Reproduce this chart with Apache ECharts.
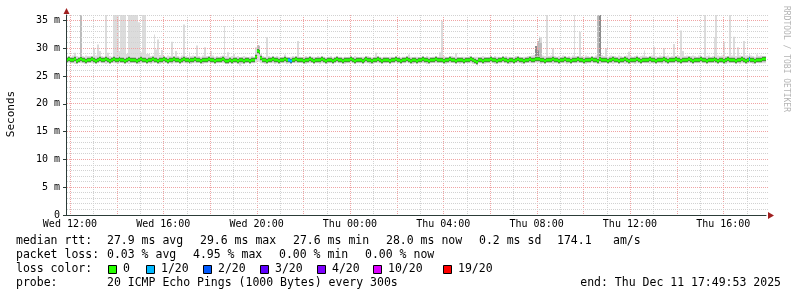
<!DOCTYPE html>
<html><head><meta charset="utf-8">
<script src="https://cdn.jsdelivr.net/npm/echarts@6/dist/echarts.min.js"></script>
<style>html,body{margin:0;padding:0;background:#fff}#c{width:797px;height:297px}</style>
</head><body><div id="c"></div>
<script>
// ---- time frame (hours since Wed 00:00) ----
const startHour = 11 + 49/60 + 53/3600;   // Wed 11:49:53
const endHour = startHour + 30;           // Thu 17:49:53
const firstStepHour = 11 + 50/60;
const stepHours = 5/60;

// ---- axis ticks / labels ----
const xLabelHours = [12,16,20,24,28,32,36,40];
const xLabels = ['Wed 12:00','Wed 16:00','Wed 20:00','Thu 00:00','Thu 04:00','Thu 08:00','Thu 12:00','Thu 16:00'];
const majorHourLines = [12,14,16,18,20,22,24,26,28,30,32,34,36,38,40];
const minorHourLines = [13,15,17,19,21,23,25,27,29,31,33,35,37,39,41];
const yTicks = [0,5,10,15,20,25,30,35];
const yTickLabels = ['0','5 m','10 m','15 m','20 m','25 m','30 m','35 m'];
const majorMsLines = [5,10,15,20,25,30,35];
const minorMsLines = [1,2,3,4,6,7,8,9,11,12,13,14,16,17,18,19,21,22,23,24,26,27,28,29,31,32,33,34,36];
const yMax = 36;

// ---- median rtt per 5-minute step (ms) ----
const median = [
27.9,28.0,27.9,27.9,28.0,27.8,27.9,28.0,27.9,27.9,27.8,27.9,
27.9,28.0,27.9,27.8,27.9,28.0,27.9,27.9,28.0,27.9,27.8,27.9,
28.0,27.9,27.9,28.0,27.9,27.9,27.8,27.9,28.0,27.9,27.9,27.9,
27.8,27.9,28.0,27.9,27.9,27.8,27.9,27.9,28.0,27.9,27.9,27.8,
27.9,27.9,28.0,27.9,27.8,27.9,27.9,28.0,27.9,27.9,27.8,27.9,
28.0,27.9,27.9,27.8,27.9,27.9,28.0,27.9,27.9,27.8,27.9,27.9,
27.9,28.0,27.9,27.9,27.8,27.9,27.9,27.9,28.0,27.9,27.8,27.8,
27.9,27.8,27.9,27.9,27.8,27.9,27.9,27.8,27.9,27.9,27.8,27.9,
27.9,28.5,29.6,29.3,28.2,27.9,27.9,27.8,27.9,27.9,28.0,27.9,
27.9,27.8,27.9,27.9,28.0,27.9,27.9,27.8,27.9,27.9,28.0,27.9,
27.9,27.9,27.8,27.9,27.9,28.0,27.9,27.8,27.9,27.9,27.9,28.0,
27.9,27.8,27.9,27.9,27.9,27.8,27.9,28.0,27.9,27.9,27.8,27.9,
27.9,27.9,28.0,27.9,27.8,27.9,27.9,27.9,27.8,27.9,28.0,27.9,
27.9,27.8,27.9,27.9,28.0,27.9,27.8,27.9,27.9,27.9,27.8,27.9,
27.9,28.0,27.9,27.9,27.8,27.9,27.9,28.0,27.9,27.8,27.9,27.9,
27.8,27.9,27.9,28.0,27.9,27.9,27.8,27.9,27.9,27.9,28.0,27.9,
27.9,27.9,27.8,27.9,27.9,28.0,27.9,27.9,27.8,27.9,27.9,27.9,
27.8,27.9,27.9,27.9,28.0,27.9,27.8,27.6,27.9,27.9,27.8,27.9,
27.9,27.9,28.0,27.9,27.9,27.8,27.9,27.9,28.0,27.9,27.9,27.8,
27.9,27.9,27.8,27.9,28.0,27.9,27.9,27.8,27.9,27.9,28.0,27.9,
27.9,28.0,28.1,28.0,27.9,27.9,27.8,27.9,27.9,27.9,28.0,27.9,
27.9,27.8,27.9,27.9,28.0,27.9,27.9,27.8,27.9,27.9,27.9,28.0,
27.9,27.9,27.8,27.9,27.9,27.9,28.0,27.9,27.9,27.8,28.0,27.9,
27.9,27.9,27.8,27.9,27.9,28.0,27.9,27.9,27.8,27.9,27.9,28.0,
27.9,27.8,27.9,27.9,27.9,28.0,27.9,27.8,27.9,27.9,27.9,27.9,
28.0,27.9,27.9,27.8,27.9,27.9,27.9,28.0,27.9,27.8,27.9,27.9,
27.9,28.0,27.9,27.9,27.8,27.9,27.9,27.9,28.0,27.9,27.8,27.9,
27.9,27.9,28.0,27.9,27.9,27.8,27.9,27.9,27.9,28.0,27.9,27.8,
27.9,27.9,27.8,27.9,28.0,27.9,27.9,27.9,27.8,27.9,27.9,28.0,
27.9,27.8,27.9,28.0,27.9,27.9,27.8,27.9,27.9,27.9,28.0,28.0
];

// ---- slowest ping per step (top of smoke, ms) ----
const pingMax = [
28.5,28.6,28.5,28.7,29.2,28.6,28.5,36,28.6,28.5,28.7,28.6,
28.6,28.5,30,28.7,30.7,29.5,28.6,28.5,36,29.2,28.6,28.5,
36,36,36,29.5,36,36,36,29,36,36,36,36,
36,34.7,29.3,36,36,29,29,28.6,28.7,32.5,29.8,31.6,
28.8,29.7,28.6,28.5,28.7,28.6,31.2,28.6,29.5,28.6,28.5,28.7,
34.3,28.6,28.5,29.3,28.6,28.7,28.5,30.5,28.6,28.5,28.7,30.2,
28.6,28.5,29.5,28.7,28.5,28.6,28.5,28.6,28.7,34,28.6,29.3,
28.5,28.6,29,28.5,28.6,28.4,28.5,28.6,28.5,28.4,28.5,28.6,
28.5,30.2,30.6,30.5,29,28.6,28.5,32,28.6,28.5,28.4,28.5,
28.6,28.5,28.4,28.5,28.9,28.5,28.4,28.5,28.6,28.5,28.4,31.3,
28.5,28.4,28.5,28.6,28.5,28.4,28.5,28.5,28.4,28.6,28.5,28.4,
28.5,28.4,28.5,28.5,28.6,28.4,28.5,28.4,28.5,28.5,28.4,28.5,
28.4,28.5,28.5,28.4,28.6,28.5,28.4,28.5,28.5,28.4,28.5,28.6,
28.5,28.4,28.5,29.2,28.6,28.5,28.4,28.5,28.5,28.4,28.5,28.5,
28.4,28.5,28.5,28.6,28.4,28.5,28.5,28.4,28.9,28.5,28.4,28.5,
28.5,28.4,28.5,28.5,28.4,28.6,28.5,28.4,28.5,28.5,28.6,28.5,
29.3,34.9,28.6,28.5,28.4,28.5,28.6,28.5,29.1,28.5,28.4,28.5,
28.5,28.4,28.5,28.6,28.5,28.4,28.5,28.5,28.4,28.5,28.6,28.5,
28.4,28.5,28.5,28.4,28.6,28.5,28.5,28.4,28.5,28.5,28.6,28.5,
28.5,28.4,28.5,28.6,28.5,28.5,28.4,28.5,28.5,28.6,28.5,28.7,
28.8,30.4,31.3,32.1,32,28.7,28.6,36,28.6,28.7,30,28.6,
28.5,28.6,28.5,28.7,28.6,28.5,28.6,28.5,28.7,36,28.6,28.5,
33,28.6,28.5,28.7,28.6,28.5,28.6,28.5,28.7,36,36,28.8,
28.6,30,28.5,28.6,28.7,28.5,28.6,28.5,28.7,28.6,28.5,28.6,
28.7,29.4,28.6,28.5,28.6,28.7,28.5,28.6,28.7,29.6,28.6,28.5,
28.6,28.7,30.3,28.6,28.5,28.7,28.6,30,28.6,28.7,28.5,28.6,
30.8,28.6,28.7,28.6,33.2,29.5,28.6,28.7,28.5,28.6,28.7,28.6,
28.5,28.7,28.6,28.5,36,28.6,28.7,28.5,28.6,32,36,28.7,
28.6,28.7,31.2,28.6,28.5,36,28.7,32.1,28.6,30.2,28.7,28.6,
31.3,28.7,28.6,29,28.7,28.6,28.5,28.9,28.6,28.7,28.6,28.5
];

// ---- fastest ping per step (bottom of smoke, ms) ----
const pingMin = [
27.3,27.4,27.3,27.3,27.2,27.3,27.4,27.3,27.3,27.2,27.3,27.3,
27.4,27.3,27.3,27.2,27.3,27.4,27.3,27.3,27.2,27.3,27.3,27.4,
27.3,27.3,27.2,27.3,27.4,27.3,27.3,27.3,27.2,27.3,27.4,27.3,
27.3,27.2,27.3,27.3,27.4,27.3,27.3,27.2,27.3,27.3,27.4,27.3,
27.2,27.3,27.3,27.4,27.3,27.3,27.2,27.3,27.3,27.4,27.3,27.3,
27.3,27.3,27.4,27.3,27.2,27.3,27.3,27.3,27.4,27.3,27.2,27.3,
27.3,27.4,27.3,27.3,27.2,27.3,27.3,27.4,27.3,27.3,27.2,27.3,
27.3,27.3,27.4,27.3,27.3,26.8,27.2,27.3,27.3,27.4,27.3,27.3,
27.3,27.4,27.6,27.5,27.3,27.3,27.2,27.3,27.4,27.3,27.3,27.2,
27.3,27.3,27.4,27.3,27.3,27.2,27.3,27.3,27.4,27.3,27.3,27.3,
27.4,27.3,27.3,27.2,27.3,27.3,27.4,27.3,27.3,27.3,27.2,27.3,
27.3,27.4,27.3,27.3,27.3,27.2,27.3,27.4,27.3,27.3,27.3,27.2,
27.3,27.3,27.4,27.3,27.2,27.3,27.3,27.3,27.4,27.3,27.3,27.3,
27.2,27.3,27.3,27.4,27.3,27.3,27.2,27.3,27.3,27.4,27.3,27.3,
27.3,27.4,27.3,27.3,27.2,27.3,27.3,27.4,27.3,27.3,27.2,27.3,
27.3,27.3,27.4,27.3,27.3,27.2,27.3,27.3,27.4,27.3,27.3,27.3,
27.4,27.3,27.3,27.2,27.3,27.3,27.4,27.3,27.3,27.3,27.2,27.3,
27.3,27.4,27.3,27.3,27.3,27.2,27.3,27.1,27.3,27.3,27.3,27.2,
27.3,27.3,27.4,27.3,27.2,27.3,27.3,27.3,27.4,27.3,27.3,27.3,
27.2,27.3,27.3,27.4,27.3,27.3,27.2,27.3,27.3,27.4,27.3,27.3,
27.3,27.4,27.4,27.3,27.2,27.3,27.3,27.4,27.3,27.3,27.2,27.3,
27.3,27.3,27.4,27.3,27.3,27.2,27.3,27.3,27.4,27.3,27.3,27.3,
27.4,27.3,27.3,27.2,27.3,27.3,27.4,27.3,27.3,27.3,27.2,27.3,
27.3,27.4,27.3,27.3,27.3,27.2,27.3,27.4,27.3,27.3,27.3,27.2,
27.3,27.3,27.4,27.3,27.2,27.3,27.3,27.3,27.4,27.3,27.3,27.3,
27.2,27.3,27.3,27.4,27.3,27.3,27.2,27.3,27.3,27.4,27.3,27.3,
27.3,27.4,27.3,27.3,27.2,27.3,27.3,27.4,27.3,27.3,27.2,27.3,
27.3,27.3,27.4,27.3,27.3,27.2,27.3,27.3,27.4,27.3,27.3,27.3,
27.4,27.3,27.3,27.2,27.3,27.3,27.4,27.3,27.3,27.3,27.2,27.3,
27.3,27.4,27.3,27.3,27.3,27.2,27.3,27.4,27.3,27.3,27.3,27.3
];

// ---- steps where several pings were slow: [step, top ms] ----
const mediumSmoke = [[7,36],[98,30.6],[99,30.4],[242,31.3],[243,32.1],[244,31],[273,36]];
const denseSmoke = [[97,28.9],[98,30.1],[99,29.9],[100,28.6],[241,30.4],[242,29.6],[274,36]];

// ---- lost pings per step: [step, lost of 20] ----
const lossSteps = [[114,1],[115,1],[351,1]];

// ---- legend ----
const lossLegendLabels = ['0','1/20','2/20','3/20','4/20','10/20','19/20'];
const lossLegendThresholds = [0,1,2,3,4,10,19];
const lossColors = ['#26ff00','#00b8ff','#0059ff','#5e00ff','#7e00ff','#dd00ff','#ff0000'];

function stepStart(i){ return firstStepHour + i*stepHours; }
function lossColor(n){
  let c = lossColors[0];
  for (let k=0;k<lossLegendThresholds.length;k++) if (n>=lossLegendThresholds[k]) c = lossColors[k];
  return c;
}
const lossByStep = {};
lossSteps.forEach(([s,n]) => { lossByStep[s] = n; });

function stepRect(params, api, t, lo, hi, fill){
  const cs = params.coordSys;
  const a = api.coord([t, Math.min(hi, yMax)]);
  const b = api.coord([t + stepHours, lo]);
  const x0 = Math.round(a[0]), x1 = Math.min(Math.round(b[0]), Math.round(cs.x + cs.width));
  const y0 = Math.max(a[1], cs.y);
  return {type:'rect', shape:{x:x0, y:y0, width:x1-x0, height:b[1]-y0}, style:{fill}};
}

const FONT_LG = '11.5px "DejaVu Sans Mono"';
const GRID_C = '#d2d2d2', MGRID_C = '#f0a4a4';

const smokeData = median.map((m,i)=>[stepStart(i), pingMin[i], pingMax[i]]);
const mediumData = mediumSmoke.map(([s,top])=>[stepStart(s), median[s], top]);
const denseData = denseSmoke.map(([s,top])=>[stepStart(s), median[s] - 0.3, top]);
const medianData = median.map((m,i)=>[stepStart(i), m, lossByStep[i] || 0]);

const vGrid = majorHourLines.map(h=>[h,1]).concat(minorHourLines.map(h=>[h,0]));
const hGrid = majorMsLines.map(v=>[v,1]).concat(minorMsLines.map(v=>[v,0]));

const chart = echarts.init(document.getElementById('c'), null, {renderer:'canvas'});

const graphics = [];
function txt(x, y, s, opt){
  graphics.push(Object.assign({type:'text', x, y, silent:true,
    style:{text:s, font:FONT_LG, fill:'#000', align:'left', verticalAlign:'middle'}}, opt||{}));
}
const rowY = [241, 255.5, 269.5, 283.5];
txt(16,rowY[0],'median rtt:');
[['27.9 ms avg',107],['29.6 ms max',200],['27.6 ms min',293],['28.0 ms now',386],['0.2 ms sd',479],['174.1',557],['am/s',613]]
  .forEach(([s,x])=>txt(x,rowY[0],s));
txt(16,rowY[1],'packet loss:');
[['0.03 % avg',107],['4.95 % max',193],['0.00 % min',279],['0.00 % now',365]].forEach(([s,x])=>txt(x,rowY[1],s));
txt(16,rowY[2],'loss color:');
const boxX = [108,146,203,260,317,373,443];
lossLegendLabels.forEach((l,k)=>{
  graphics.push({type:'rect', silent:true, shape:{x:boxX[k]+0.5, y:265.5, width:8, height:8},
    style:{fill:lossColors[k], stroke:'#000', lineWidth:1}});
  txt(boxX[k]+15, rowY[2], l);
});
txt(16,rowY[3],'probe:');
txt(107,rowY[3],'20 ICMP Echo Pings (1000 Bytes) every 300s');
graphics.push({type:'text', x:781, y:rowY[3], silent:true,
  style:{text:'end: Thu Dec 11 17:49:53 2025', font:FONT_LG, fill:'#000', align:'right', verticalAlign:'middle'}});
// y axis title
graphics.push({type:'text', x:11, y:114, rotation:Math.PI/2, silent:true,
  style:{text:'Seconds', font:'11px "DejaVu Sans Mono"', fill:'#000', align:'center', verticalAlign:'middle'}});
// watermark
graphics.push({type:'text', x:786, y:59, rotation:-Math.PI/2, silent:true,
  style:{text:'RRDTOOL / TOBI OETIKER', font:'8px "DejaVu Sans Mono"', fill:'#b4b4b4', align:'center', verticalAlign:'middle'}});
// axis arrows
graphics.push({type:'polygon', silent:true, shape:{points:[[63.5,14],[69.5,14],[66.5,8]]}, style:{fill:'#a02020'}});
graphics.push({type:'polygon', silent:true, shape:{points:[[768,212],[768,219],[774,215.5]]}, style:{fill:'#a02020'}});

chart.setOption({
  animation:false,
  backgroundColor:'#fff',
  grid:{left:66, right:31, top:15, bottom:82, containLabel:false, outerBoundsMode:'none'},
  xAxis:{type:'value', min:startHour, max:endHour, z:10,
    axisLine:{show:true, onZero:false, lineStyle:{color:'#2c3c38', width:1}},
    axisTick:{show:false},
    splitLine:{show:false},
    axisLabel:{customValues:xLabelHours, formatter:v=>xLabels[xLabelHours.indexOf(v)]||'',
      color:'#000', fontFamily:'DejaVu Sans Mono', fontSize:10, margin:4}
  },
  yAxis:{type:'value', min:0, max:yMax, z:10,
    axisLine:{show:true, lineStyle:{color:'#2c3c38', width:1}},
    axisTick:{show:true, customValues:yTicks, length:3, lineStyle:{color:'#2c3c38'}},
    splitLine:{show:false},
    axisLabel:{customValues:yTicks, formatter:v=>yTickLabels[yTicks.indexOf(v)]||'',
      color:'#000', fontFamily:'DejaVu Sans Mono', fontSize:10, margin:6}
  },
  graphic:graphics,
  series:[
    {type:'custom', name:'smoke', data:smokeData, z:2, silent:true,
      renderItem:(p,api)=>stepRect(p,api,api.value(0),api.value(1),api.value(2),'#dcdcdc')},
    {type:'custom', name:'smoke medium', data:mediumData, z:3, silent:true,
      renderItem:(p,api)=>stepRect(p,api,api.value(0),api.value(1),api.value(2),'#bcbcbc')},
    {type:'custom', name:'smoke dense', data:denseData, z:4, silent:true,
      renderItem:(p,api)=>stepRect(p,api,api.value(0),api.value(1),api.value(2),'#8c8c8c')},
    {type:'custom', name:'vgrid', data:vGrid, z:5, silent:true,
      renderItem:(p,api)=>{
        const cs = p.coordSys;
        const x = Math.round(api.coord([api.value(0),0])[0]) + 0.5;
        return {type:'line', shape:{x1:x, y1:cs.y, x2:x, y2:cs.y+cs.height},
          style:{stroke: api.value(1) ? MGRID_C : GRID_C, lineWidth:1, lineDash:[1,1]}};
      }},
    {type:'custom', name:'hgrid', data:hGrid.map(d=>[startHour, d[0], d[1]]), z:5, silent:true,
      encode:{x:0, y:1},
      renderItem:(p,api)=>{
        const cs = p.coordSys;
        const y = Math.floor(api.coord([startHour, api.value(1)])[1]) + 0.5;
        return {type:'line', shape:{x1:cs.x+1, y1:y, x2:cs.x+cs.width+2, y2:y},
          style:{stroke: api.value(2) ? MGRID_C : GRID_C, lineWidth:1, lineDash:[1,1]}};
      }},
    {type:'custom', name:'median', data:medianData, z:6, silent:true,
      renderItem:(p,api)=>{
        const t = api.value(0), m = api.value(1), n = api.value(2);
        const a = api.coord([t, m]), b = api.coord([t+stepHours, m]);
        const x0 = Math.round(a[0]), x1 = Math.round(b[0]);
        const yc = Math.round(a[1]);
        return {type:'group', children:[
          {type:'rect', shape:{x:x0, y:yc-3, width:x1-x0, height:6}, style:{fill:'#bcbcbc'}},
          {type:'rect', shape:{x:x0, y:yc-2, width:x1-x0, height:4}, style:{fill:'#4a4a4a'}},
          {type:'rect', shape:{x:x0, y:yc-1.5, width:x1-x0, height:3}, style:{fill:lossColor(n)}}
        ]};
      }}
  ]
});
</script></body></html>
